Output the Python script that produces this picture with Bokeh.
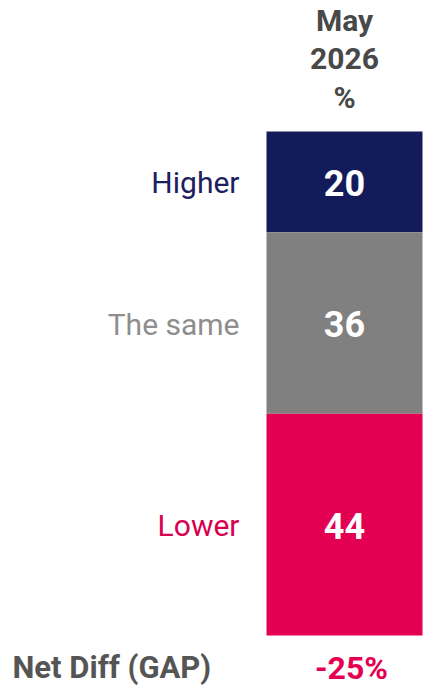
from bokeh.plotting import figure
from bokeh.models import Range1d, ColumnDataSource
from bokeh.core.properties import value
from bokeh.embed import file_html
from bokeh.resources import INLINE
import numpy as np

# ---- data ----
categories = ["Higher", "The same", "Lower"]
values = [20, 36, 44]
colors = ["#131B5B", "#808080", "#E30052"]
label_colors = ["#1B2060", "#8E8E8E", "#D8004E"]
header_lines = ["May", "2026", "%"]
net_label = "Net Diff (GAP)"
net_value = "-25%"

# ---- layout ----
W, H = 423, 688
PX = 5.04          # pixels per percentage point
TOP = 131          # pixel offset of bar top inside figure

def py(pix):
    return (pix - TOP) / PX

p = figure(width=W, height=H, output_backend="svg", toolbar_location=None,
           x_range=Range1d(0, W), y_range=Range1d(py(H), py(0)),
           min_border=0, outline_line_color=None)
p.axis.visible = False
p.grid.visible = False
p.background_fill_color = "white"
p.border_fill_color = "white"

tops = np.concatenate([[0], np.cumsum(values)[:-1]])
bottoms = np.cumsum(values)
mids = (tops + bottoms) / 2

bar_left, bar_right = 266, 422
bar_c = (bar_left + bar_right) / 2

src = ColumnDataSource(dict(top=tops, bottom=bottoms, mid=mids, cat=categories,
                            val=[str(v) for v in values], color=colors,
                            lcolor=label_colors))

p.quad(left=bar_left, right=bar_right, top="top", bottom="bottom",
       fill_color="color", line_color=None, source=src)

p.text(x=bar_c, y="mid", text="val", source=src, text_color="white",
       text_font=value("Roboto"), text_font_style="bold", text_font_size="36px",
       text_align="center", text_baseline="middle", y_offset=1)

p.text(x=239, y="mid", text="cat", source=src, text_color="lcolor",
       text_font=value("Roboto"), text_font_size="30px",
       text_align="right", text_baseline="middle", y_offset=1)

hdr_y = [py(20), py(58), py(97)]
p.text(x=[bar_c] * 3, y=hdr_y, text=header_lines, text_color="#484848",
       text_font=value("Roboto"), text_font_style="bold", text_font_size="30px",
       text_align="center", text_baseline="middle")

p.text(x=[12], y=[py(667)], text=[net_label], text_color="#555555",
       text_font=value("Roboto"), text_font_style="bold", text_font_size="31px",
       text_align="left", text_baseline="middle")
p.text(x=[351], y=[py(667)], text=[net_value], text_color="#E30052",
       text_font=value("Roboto"), text_font_style="bold", text_font_size="32px",
       text_align="center", text_baseline="middle")

open("out.html", "w").write(file_html(p, INLINE))
